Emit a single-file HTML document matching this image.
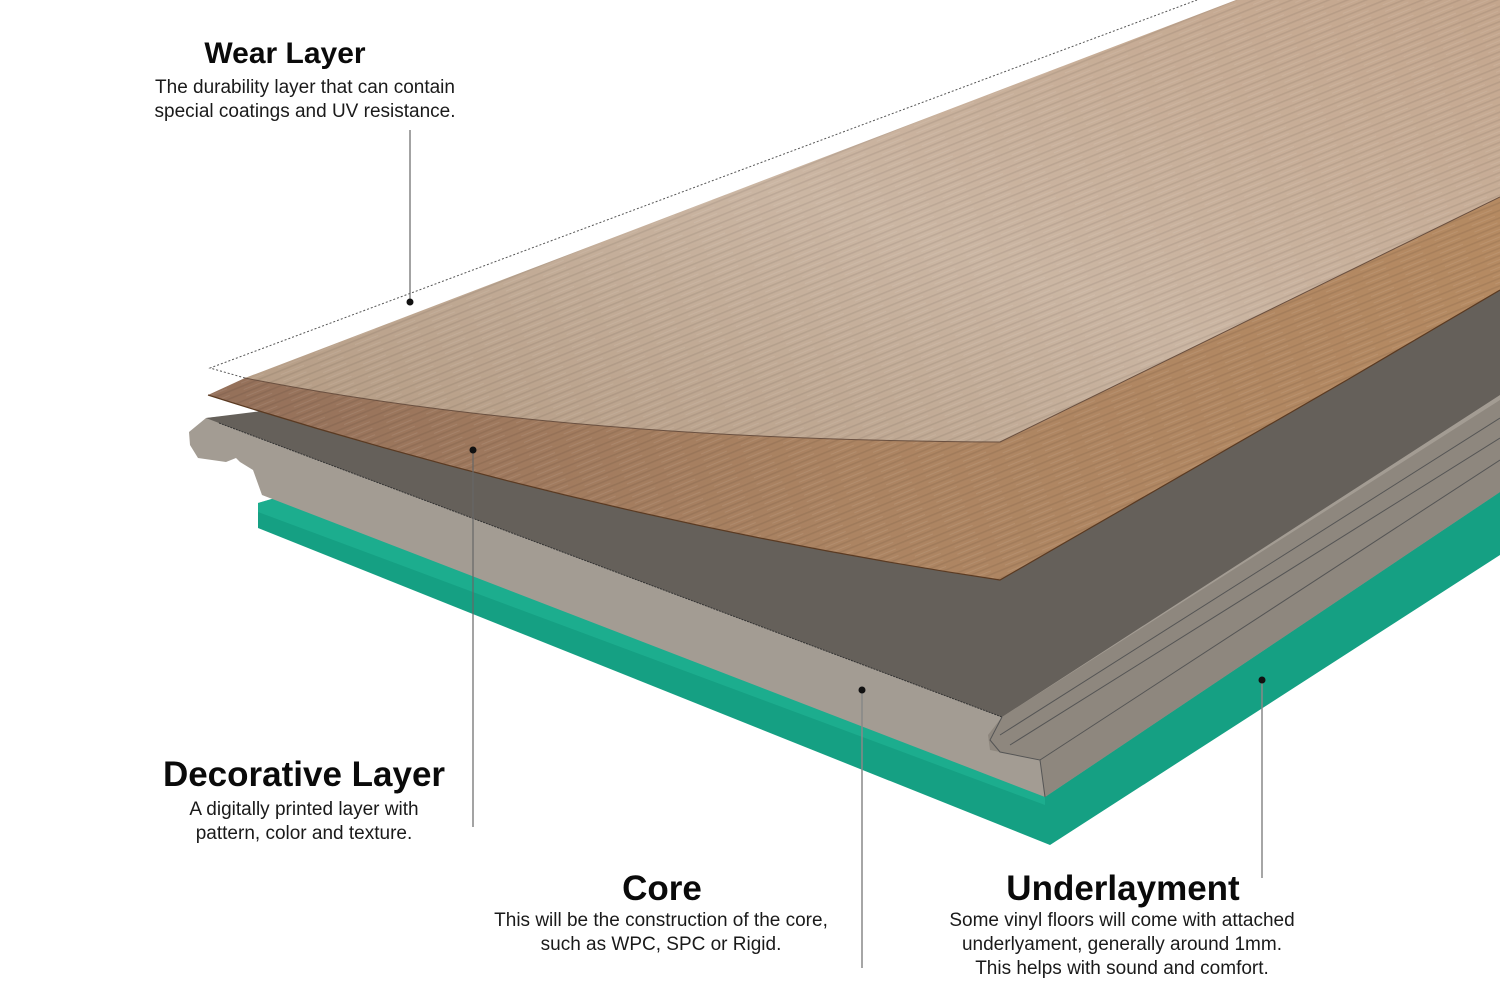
<!DOCTYPE html>
<html><head><meta charset="utf-8"><style>
html,body{margin:0;padding:0;background:#fff;}
body{width:1500px;height:1000px;position:relative;overflow:hidden;font-family:"Liberation Sans",sans-serif;color:#111;}
.t{position:absolute;text-align:center;white-space:nowrap;}
.h{font-weight:bold;color:#0a0a0a;}
.s{font-size:19px;line-height:24px;color:#1a1a1a;}
svg{position:absolute;left:0;top:0;}
</style></head><body>
<svg width="1500" height="1000" viewBox="0 0 1500 1000">
<defs>
<linearGradient id="lw" x1="0" y1="1" x2="1" y2="0">
<stop offset="0" stop-color="#b39a82"/><stop offset="0.5" stop-color="#cbb6a3"/><stop offset="1" stop-color="#c4a68d"/>
</linearGradient>
<linearGradient id="bw" x1="0" y1="0" x2="1" y2="0">
<stop offset="0" stop-color="#94705a"/><stop offset="0.5" stop-color="#ac8462"/><stop offset="1" stop-color="#b58a62"/>
</linearGradient>
<pattern id="grain" width="40" height="7" patternUnits="userSpaceOnUse" patternTransform="rotate(-22)">
<rect width="40" height="7" fill="none"/><rect y="0" width="40" height="1.6" fill="#000" opacity="0.07"/><rect y="4" width="25" height="1" fill="#fff" opacity="0.08"/>
</pattern>
</defs>
<!-- green underlayment -->
<polygon points="258,503 275,498 1045,790 1500,470 1500,555 1050,845 258,528" fill="#15a083"/>
<polygon points="258,503 275,498 1045,790 1045,805 258,512" fill="#22b596" opacity="0.6"/>
<!-- core -->
<polygon points="189,432 206,418 1480,280 1500,290 1500,492 1045,797 262,495 253,470 240,462 236,458 226,462 198,458 190,445" fill="#a39c93"/>
<!-- core side face with grooves -->
<polygon points="1002,717 1500,400 1500,492 1045,797 1040,760 990,750 988,735" fill="#8e877e"/>
<polyline points="1000,735 1500,418" fill="none" stroke="#555" stroke-width="1"/>
<polyline points="1010,745 1500,438" fill="none" stroke="#555" stroke-width="1"/>
<polyline points="1040,760 1500,460" fill="none" stroke="#555" stroke-width="1"/>
<polyline points="1045,797 1040,760 1000,752 990,740 1002,717" fill="none" stroke="#555" stroke-width="1"/>
<!-- dark core top -->
<polygon points="206,418 1480,260 1500,270 1500,395 1002,717 219,423" fill="#65605a"/>
<line x1="219" y1="423" x2="1002" y2="717" stroke="#333" stroke-width="1" stroke-dasharray="2,1"/>
<!-- brown decorative -->
<path d="M208,395 L245,378 L1500,180 L1500,290 L1347,380 L1000,580 Q600,520 208,395 Z" fill="url(#bw)"/>
<path d="M208,395 L245,378 L1500,180 L1500,290 L1347,380 L1000,580 Q600,520 208,395 Z" fill="url(#grain)"/>
<path d="M208,395 Q600,520 1000,580 L1347,380 L1500,290" fill="none" stroke="#5a3a22" stroke-width="1.2"/>
<!-- light wear/top -->
<path d="M245,378 L1236,0 L1500,0 L1500,197 L1000,442 Q560,440 245,378 Z" fill="url(#lw)"/>
<path d="M245,378 L1236,0 L1500,0 L1500,197 L1000,442 Q560,440 245,378 Z" fill="url(#grain)"/>
<path d="M245,378 Q560,440 1000,442 L1500,197" fill="none" stroke="#6a5040" stroke-width="1"/>
<!-- dashed wear layer outline -->
<polyline points="245,378 210,368 1197,0" fill="none" stroke="#555" stroke-width="1" stroke-dasharray="2,2"/>
<!-- callouts -->
<line x1="410" y1="130" x2="410" y2="302" stroke="#666" stroke-width="1.2"/>
<circle cx="410" cy="302" r="3.5" fill="#111"/>
<line x1="473" y1="450" x2="473" y2="827" stroke="#666" stroke-width="1.2"/>
<circle cx="473" cy="450" r="3.5" fill="#111"/>
<line x1="862" y1="690" x2="862" y2="968" stroke="#888" stroke-width="1.5"/>
<circle cx="862" cy="690" r="3.5" fill="#111"/>
<line x1="1262" y1="680" x2="1262" y2="878" stroke="#888" stroke-width="1.5"/>
<circle cx="1262" cy="680" r="3.5" fill="#111"/>
</svg>
<div class="t h" style="left:135px;top:37px;width:300px;font-size:30px;">Wear Layer</div>
<div class="t s" style="left:105px;top:76px;width:400px;">The durability layer that can contain<br>special coatings and UV resistance.</div>
<div class="t h" style="left:104px;top:755px;width:400px;font-size:35px;">Decorative Layer</div>
<div class="t s" style="left:104px;top:798px;width:400px;">A digitally printed layer with<br>pattern, color and texture.</div>
<div class="t h" style="left:512px;top:869px;width:300px;font-size:35px;">Core</div>
<div class="t s" style="left:461px;top:909px;width:400px;">This will be the construction of the core,<br>such as WPC, SPC or Rigid.</div>
<div class="t h" style="left:923px;top:869px;width:400px;font-size:35px;">Underlayment</div>
<div class="t s" style="left:922px;top:909px;width:400px;">Some vinyl floors will come with attached<br>underlyament, generally around 1mm.<br>This helps with sound and comfort.</div>
</body></html>
